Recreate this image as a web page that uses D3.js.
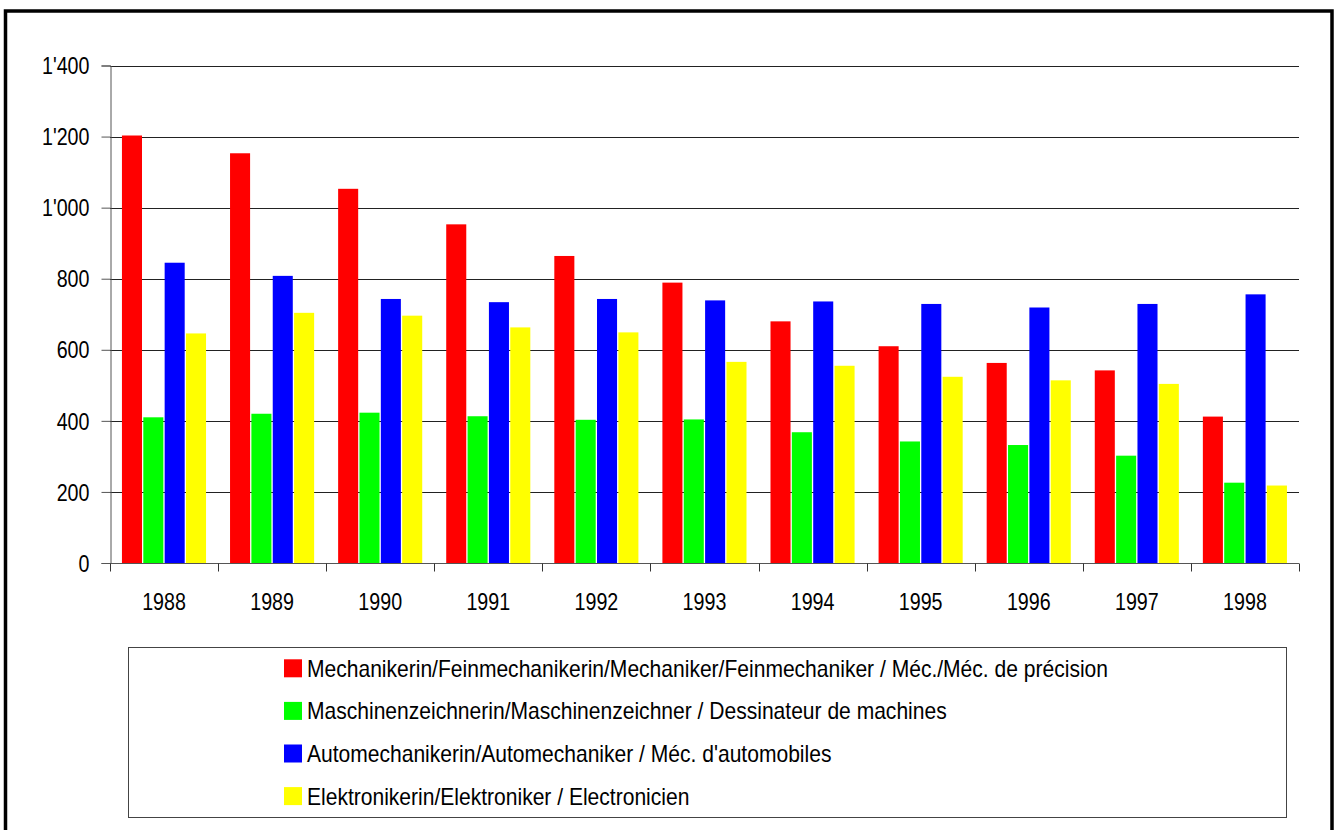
<!DOCTYPE html>
<html lang="de">
  <head>
    <meta charset="utf-8" />
    <title>Lehrabschlüsse 1988-1998</title>
    <script src="https://d3js.org/d3.v7.min.js"></script>
    <style>
      body { margin: 0; background: #fff; }
      svg text { font-family: "Liberation Sans", Arial, sans-serif; fill: #000; }
    </style>
  </head>
  <body>
    <div id="content"></div>
    <script>
      const years = ["1988", "1989", "1990", "1991", "1992", "1993", "1994", "1995", "1996", "1997", "1998"];

      const seriesNames = [
        "Mechanikerin/Feinmechanikerin/Mechaniker/Feinmechaniker / Méc./Méc. de précision",
        "Maschinenzeichnerin/Maschinenzeichner / Dessinateur de machines",
        "Automechanikerin/Automechaniker / Méc. d'automobiles",
        "Elektronikerin/Elektroniker / Electronicien",
      ];

      const mechaniker = [1203, 1153, 1053, 953, 864, 789, 680, 610, 563, 542, 412];
      const zeichner = [410, 420, 423, 413, 403, 404, 368, 342, 332, 302, 226];
      const automech = [845, 808, 743, 734, 743, 739, 736, 729, 719, 729, 756];
      const elektroniker = [646, 704, 696, 663, 649, 566, 555, 524, 514, 504, 218];

      const yTicks = [0, 200, 400, 600, 800, 1000, 1200, 1400];
      const colors = ["#ff0000", "#00ff00", "#0000ff", "#ffff00"];

      const allSeries = [mechaniker, zeichner, automech, elektroniker];

      // no narrow font installed, so squeeze the text horizontally
      const numSqueeze = 0.82;
      const labelSqueeze = 0.877;

      const chart = (selector) => {
        const width = 1340;
        const height = 830;
        const marginLeft = 110;
        const plotRight = 1299;
        const plotTop = 65.5;
        const plotBottom = 563;

        const svg = d3
          .select(selector)
          .append("svg")
          .attr("width", width)
          .attr("height", height);

        // outer frame
        svg
          .append("rect")
          .attr("x", 5.5)
          .attr("y", 11)
          .attr("width", 1326.5)
          .attr("height", 900)
          .attr("fill", "none")
          .attr("stroke", "#000")
          .attr("stroke-width", 3.5);

        const x0 = d3
          .scaleBand()
          .domain(years)
          .range([marginLeft, plotRight])
          .paddingInner(0.21)
          .paddingOuter(0.105);

        const x1 = d3
          .scaleBand()
          .domain(d3.range(allSeries.length))
          .range([0, x0.bandwidth()]);

        const y = d3.scaleLinear().domain([0, 1400]).range([plotBottom, plotTop]);

        const fmt = (v) => d3.format(",")(v).replace(/,/g, "'");

        // gridlines
        svg
          .append("g")
          .selectAll("line")
          .data(yTicks.filter((d) => d > 0))
          .join("line")
          .attr("x1", marginLeft)
          .attr("x2", plotRight)
          .attr("y1", (d) => Math.round(y(d)) + 0.5)
          .attr("y2", (d) => Math.round(y(d)) + 0.5)
          .attr("stroke", "#222")
          .attr("stroke-width", 1);

        // bars
        years.forEach((yr, i) => {
          svg
            .append("g")
            .attr("transform", `translate(${x0(yr)},0)`)
            .selectAll("rect")
            .data(allSeries.map((s, k) => ({ k, v: s[i] })))
            .join("rect")
            .attr("x", (d) => x1(d.k) + 0.6)
            .attr("y", (d) => y(d.v))
            .attr("width", x1.bandwidth() - 1.3)
            .attr("height", (d) => plotBottom - y(d.v))
            .attr("fill", (d) => colors[d.k]);
        });

        // y axis
        const yAxis = svg
          .append("g")
          .attr("transform", `translate(${marginLeft + 0.5},0)`)
          .call(d3.axisLeft(y).tickValues(yTicks).tickFormat(fmt).tickSize(9).tickPadding(12));
        yAxis.select(".domain").attr("stroke", "#555");
        yAxis.selectAll(".tick line").attr("stroke", "#555");
        yAxis
          .selectAll("text")
          .style("font-size", "24px")
          .attr("dy", "0.34em")
          .attr("x", -21 / numSqueeze)
          .attr("transform", `scale(${numSqueeze},1)`);

        // x axis, ticks at category boundaries
        const xEdge = d3.scaleLinear().domain([0, years.length]).range([marginLeft, plotRight]);
        const xAxis = svg
          .append("g")
          .attr("transform", `translate(0,${plotBottom + 0.5})`);
        xAxis
          .append("line")
          .attr("x1", marginLeft)
          .attr("x2", plotRight)
          .attr("stroke", "#555");
        xAxis
          .selectAll("line.tk")
          .data(d3.range(years.length + 1))
          .join("line")
          .attr("class", "tk")
          .attr("x1", (d) => Math.round(xEdge(d)) + 0.5)
          .attr("x2", (d) => Math.round(xEdge(d)) + 0.5)
          .attr("y1", 0)
          .attr("y2", 8)
          .attr("stroke", "#333");
        xAxis
          .selectAll("text")
          .data(years)
          .join("text")
          .attr("x", (d) => (x0(d) + x0.bandwidth() / 2) / numSqueeze)
          .attr("y", 47)
          .attr("text-anchor", "middle")
          .attr("transform", `scale(${numSqueeze},1)`)
          .style("font-size", "24px")
          .text((d) => d);

        // legend
        const legend = svg.append("g");
        legend
          .append("rect")
          .attr("x", 128.5)
          .attr("y", 647.5)
          .attr("width", 1158)
          .attr("height", 170)
          .attr("fill", "#fff")
          .attr("stroke", "#444")
          .attr("stroke-width", 1);

        const items = legend
          .selectAll("g.item")
          .data(seriesNames)
          .join("g")
          .attr("class", "item")
          .attr("transform", (d, i) => `translate(284,${668.3 + i * 42.6})`);
        items
          .append("rect")
          .attr("x", 0)
          .attr("y", -9)
          .attr("width", 18)
          .attr("height", 18)
          .attr("fill", (d, i) => colors[i]);
        items
          .append("text")
          .attr("x", 23 / labelSqueeze)
          .attr("y", 0)
          .attr("dy", "0.35em")
          .attr("transform", `scale(${labelSqueeze},1)`)
          .style("font-size", "24px")
          .text((d) => d);
      };

      chart("#content");
    </script>
  </body>
</html>
